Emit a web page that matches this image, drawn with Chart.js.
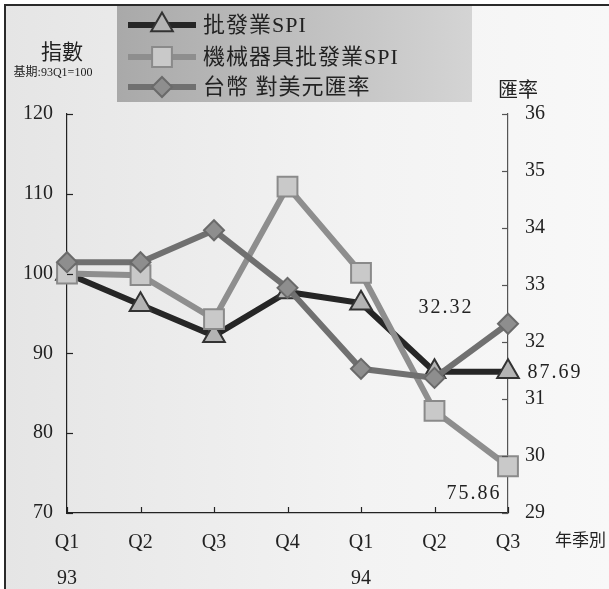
<!DOCTYPE html>
<html>
<head>
<meta charset="utf-8">
<script src="https://cdn.jsdelivr.net/npm/chart.js@4.4.1/dist/chart.umd.min.js"></script>
<style>
  html, body { margin: 0; padding: 0; background: #fff; }
  canvas { display: block; }
</style>
</head>
<body>
<canvas id="grafico" width="609" height="589"></canvas>
<script>
// Datos
const trimestres = [['Q1', '93'], ['Q2', ''], ['Q3', ''], ['Q4', ''], ['Q1', '94'], ['Q2', ''], ['Q3', '']];
const spiMayorista = [100, 96.1, 92.2, 97.7, 96.3, 87.7, 87.69];
const spiMaquinaria = [100, 99.8, 94.3, 110.9, 100.1, 82.8, 75.86];
const tipoCambio = [33.4, 33.4, 33.96, 32.95, 31.53, 31.37, 32.32];
const ticksIzq = [70, 80, 90, 100, 110, 120];
const ticksDer = [29, 30, 31, 32, 33, 34, 35, 36];

const SERIF = '"Liberation Serif", "Noto Sans CJK TC", serif';
const CJK = '"Noto Sans CJK TC", sans-serif';

// Fondo, marco y textos sueltos
const fondoPlugin = {
  id: 'fondo',
  beforeDraw(chart) {
    const c = chart.ctx;
    c.save();
    c.fillStyle = '#fff';
    c.fillRect(0, 0, chart.width, chart.height);
    const g = c.createLinearGradient(5, 0, chart.width, 0);
    g.addColorStop(0, '#e5e5e5');
    g.addColorStop(0.6, '#f3f3f3');
    g.addColorStop(1, '#f8f8f8');
    c.fillStyle = g;
    c.fillRect(5, 5, chart.width - 5, chart.height - 5);
    c.strokeStyle = '#2a2a2a';
    c.lineWidth = 2;
    c.beginPath();
    c.moveTo(5, chart.height);
    c.lineTo(5, 5);
    c.lineTo(chart.width, 5);
    c.stroke();

    // caja de leyenda
    const lg = c.createLinearGradient(117, 0, 472, 0);
    lg.addColorStop(0, '#a9a9a9');
    lg.addColorStop(1, '#d4d4d4');
    c.fillStyle = lg;
    c.fillRect(117, 6, 355, 96);
    c.restore();
  },
  afterDraw(chart) {
    const c = chart.ctx;
    c.save();
    c.fillStyle = '#222';
    c.textBaseline = 'middle';
    c.textAlign = 'center';
    c.font = '21px ' + CJK;
    c.fillText('指數', 62, 51);
    c.font = '12px ' + SERIF;
    c.fillText('基期:93Q1=100', 53, 73);
    c.font = '20px ' + CJK;
    c.fillText('匯率', 518, 89);
    c.textAlign = 'left';
    c.font = '17px ' + CJK;
    c.fillText('年季別', 555, 540);

    // marcas hacia dentro
    c.lineWidth = 1.2;
    const sy = chart.scales.y, sy1 = chart.scales.y1, sx = chart.scales.x;
    c.strokeStyle = '#222';
    ticksIzq.forEach(v => {
      const p = Math.round(sy.getPixelForValue(v)) + 0.5;
      c.beginPath(); c.moveTo(sy.right, p); c.lineTo(sy.right + 6, p); c.stroke();
    });
    c.strokeStyle = '#555';
    ticksDer.forEach(v => {
      const p = Math.round(sy1.getPixelForValue(v)) + 0.5;
      c.beginPath(); c.moveTo(sy1.left, p); c.lineTo(sy1.left - 6, p); c.stroke();
    });
    c.strokeStyle = '#222';
    trimestres.forEach((t, i) => {
      const p = Math.round(sx.getPixelForValue(i)) + 0.5;
      c.beginPath(); c.moveTo(p, sx.top); c.lineTo(p, sx.top - 6); c.stroke();
    });

    // leyenda
    const filas = [25, 57, 87];
    chart.data.datasets.forEach((ds, i) => {
      const y = filas[i];
      c.strokeStyle = ds.borderColor;
      c.lineWidth = 6;
      c.beginPath(); c.moveTo(128, y); c.lineTo(196, y); c.stroke();
      marcador(c, ds.pointStyle, 162, y, ds.pointRadius, ds.pointBackgroundColor, ds.pointBorderColor);
      c.fillStyle = '#222';
      c.font = '22px ' + SERIF;
      c.letterSpacing = '1px';
      c.textAlign = 'left';
      c.fillText(ds.label, 203, y + 1);
      c.letterSpacing = '0px';
    });

    // rótulos de valores finales
    c.font = '20px ' + SERIF;
    c.letterSpacing = '2px';
    c.fillStyle = '#222';
    c.textAlign = 'center';
    const ultimo = spiMayorista.length - 1;
    const pDark = chart.getDatasetMeta(0).data[ultimo];
    const pSq = chart.getDatasetMeta(1).data[ultimo];
    const pDi = chart.getDatasetMeta(2).data[ultimo];
    c.fillText(spiMayorista[ultimo].toFixed(2), pDark.x + 47, pDark.y + 1);
    c.fillText(spiMaquinaria[ultimo].toFixed(2), pSq.x - 34, pSq.y + 28);
    c.fillText(tipoCambio[ultimo].toFixed(2), pDi.x - 62, pDi.y - 16);
    c.restore();
  }
};

function marcador(c, estilo, x, y, r, relleno, borde) {
  c.save();
  c.fillStyle = relleno;
  c.strokeStyle = borde;
  c.lineWidth = 2;
  c.beginPath();
  if (estilo === 'triangle') {
    c.moveTo(x, y - r);
    c.lineTo(x + r * 0.866, y + r / 2);
    c.lineTo(x - r * 0.866, y + r / 2);
    c.closePath();
  } else if (estilo === 'rect') {
    const s = r * Math.SQRT1_2;
    c.rect(x - s, y - s, 2 * s, 2 * s);
  } else {
    c.moveTo(x, y - r); c.lineTo(x + r, y); c.lineTo(x, y + r); c.lineTo(x - r, y);
    c.closePath();
  }
  c.fill();
  c.stroke();
  c.restore();
}

const fuenteTicks = { family: SERIF, size: 20 };

new Chart(document.getElementById('grafico').getContext('2d'), {
  type: 'line',
  data: {
    labels: trimestres,
    datasets: [
      {
        label: '批發業SPI',
        data: spiMayorista,
        yAxisID: 'y',
        borderColor: '#262626',
        borderWidth: 6,
        pointStyle: 'triangle',
        pointRadius: 12.5,
        pointBackgroundColor: '#b4b4b4',
        pointBorderColor: '#333',
        pointBorderWidth: 2,
        tension: 0,
        order: 2
      },
      {
        label: '機械器具批發業SPI',
        data: spiMaquinaria,
        yAxisID: 'y',
        borderColor: '#8e8e8e',
        borderWidth: 6,
        pointStyle: 'rect',
        pointRadius: 14,
        pointBackgroundColor: '#c9c9c9',
        pointBorderColor: '#8a8a8a',
        pointBorderWidth: 2,
        tension: 0,
        order: 1
      },
      {
        label: '台幣 對美元匯率',
        data: tipoCambio,
        yAxisID: 'y1',
        borderColor: '#707070',
        borderWidth: 6,
        pointStyle: 'rectRot',
        pointRadius: 10,
        pointBackgroundColor: '#8e8e8e',
        pointBorderColor: '#6a6a6a',
        pointBorderWidth: 2,
        tension: 0,
        order: 0
      }
    ]
  },
  options: {
    responsive: false,
    animation: false,
    devicePixelRatio: 1,
    layout: { padding: { top: 114, left: 0, right: 0, bottom: 0 } },
    plugins: {
      legend: { display: false },
      tooltip: { enabled: false }
    },
    scales: {
      x: {
        offset: false,
        grid: { display: false, drawTicks: false },
        border: { display: true, color: '#222', width: 1.2 },
        ticks: { font: { ...fuenteTicks, lineHeight: 1.8 }, color: '#222', padding: 12, maxRotation: 0, autoSkip: false },
        afterFit(s) { s.height = 76; }
      },
      y: {
        position: 'left',
        min: 70, max: 120,
        afterBuildTicks(s) { s.ticks = ticksIzq.map(v => ({ value: v })); },
        grid: { display: false, drawTicks: false },
        border: { display: true, color: '#222', width: 1.2 },
        ticks: { font: fuenteTicks, color: '#222', padding: 14 },
        afterFit(s) { s.width = 67; }
      },
      y1: {
        position: 'right',
        min: 29, max: 36,
        afterBuildTicks(s) { s.ticks = ticksDer.map(v => ({ value: v })); },
        grid: { display: false, drawTicks: false },
        border: { display: true, color: '#555', width: 1.2 },
        ticks: { font: fuenteTicks, color: '#222', padding: 17 },
        afterFit(s) { s.width = 101; }
      }
    }
  },
  plugins: [fondoPlugin]
});
</script>
</body>
</html>
